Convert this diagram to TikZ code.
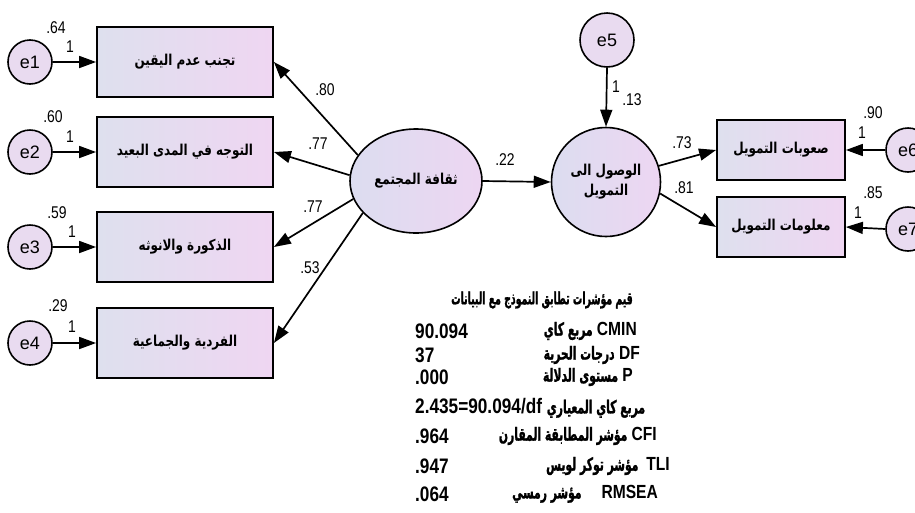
\documentclass[tikz,border=0pt]{standalone}
\usepackage{fontspec}
\setmainfont{Liberation Sans}
\newfontfamily\arfont[Script=Arabic,FakeStretch=0.8]{DejaVu Sans}
\newfontfamily\armid[Script=Arabic,FakeStretch=0.6,FakeBold=1.2]{DejaVu Sans}
\newfontfamily\arnarrow[Script=Arabic,FakeStretch=0.55,FakeBold=1.2]{DejaVu Sans}
\newfontfamily\narrowfont{Liberation Sans}[FakeStretch=0.82]
\TeXXeTstate=1
\usetikzlibrary{arrows.meta,shapes.geometric}

\newcommand{\artext}[1]{{\arfont\bfseries\beginR #1\endR}}
\newcommand{\arrow}[1]{{\armid\bfseries\fontsize{18}{18}\selectfont\beginR #1\endR}}
\newcommand{\artitle}[1]{{\arnarrow\bfseries\beginR #1\endR}}

\definecolor{boxL}{HTML}{DEE0EE}
\definecolor{boxR}{HTML}{EFD6F2}
\definecolor{errfill}{HTML}{E9DBF0}
\definecolor{latL}{HTML}{DCDDF0}
\definecolor{latR}{HTML}{EDD6F2}

\tikzset{
  obsbox/.style={draw, line width=1.8pt, rectangle, inner sep=0pt,
    left color=boxL, right color=boxR,
    font=\fontsize{15}{17}\selectfont},
  errc/.style={draw, circle, line width=1.6pt, fill=errfill, inner sep=0pt,
    minimum size=44pt, font=\fontsize{18}{18}\selectfont},
  latent/.style={draw, line width=1.6pt, inner sep=0pt,
    left color=latL, right color=latR,
    font=\fontsize{15}{20}\selectfont},
  arr/.style={-{Triangle[length=17pt,width=12pt]}, line width=1.7pt},
  coef/.style={inner sep=0pt, font=\narrowfont\fontsize{17}{17}\selectfont},
  fitnum/.style={inner sep=0pt, anchor=west, font=\narrowfont\bfseries\fontsize{21}{21}\selectfont},
  fitlab/.style={inner sep=0pt, anchor=east, font=\narrowfont\bfseries\fontsize{19}{19}\selectfont},
  fittitle/.style={inner sep=0pt, font=\fontsize{17}{17}\selectfont},
}

\begin{document}
\begin{tikzpicture}[x=1pt,y=-1pt]
\useasboundingbox (0,0) rectangle (915,512);

% error terms of the measured indicators
\node[errc] (e1) at (30,62) {e1};
\node[errc] (e2) at (30,152) {e2};
\node[errc] (e3) at (30,247) {e3};
\node[errc] (e4) at (30,343) {e4};

% indicators of the culture construct
\node[obsbox, minimum width=176pt, minimum height=70pt] (b1) at (185,62) {\artext{تجنب عدم اليقين}};
\node[obsbox, minimum width=176pt, minimum height=70pt] (b2) at (185,152) {\artext{التوجه في المدى البعيد}};
\node[obsbox, minimum width=176pt, minimum height=70pt] (b3) at (185,247) {\artext{الذكورة والانوثه}};
\node[obsbox, minimum width=176pt, minimum height=70pt] (b4) at (185,343) {\artext{الفردية والجماعية}};

% latent variables
\node[latent, ellipse, minimum width=132pt, minimum height=104pt] (F) at (416,181) {\artext{ثقافة المجتمع}};
\node[latent, circle, minimum size=109pt, align=center] (A) at (606,182) {\artext{الوصول الى}\\\artext{التمويل}};
\node[errc, minimum size=54pt] (e5) at (607,40) {e5};

% indicators of access to finance
\node[obsbox, minimum width=128pt, minimum height=60pt] (r1) at (781,150) {\artext{صعوبات التمويل}};
\node[obsbox, minimum width=128pt, minimum height=60pt] (r2) at (781,227) {\artext{معلومات التمويل}};
\node[errc] (e6) at (908,150) {e6};
\node[errc] (e7) at (908,229) {e7};

% paths
\foreach \i in {1,2,3,4} \draw[arr] (e\i.east) -- (b\i.west);
\draw[arr] (F.156) -- (b1.east);
\draw[arr] (F.175) -- (b2.east);
\draw[arr] (F.196) -- (b3.east);
\draw[arr] (F.211) -- (b4.east);
\draw[arr] (F.east) -- (A.west);
\draw[arr] (e5.south) -- (A.north);
\draw[arr] (A.17) -- (r1.west);
\draw[arr] (A.-12) -- (r2.west);
\draw[arr] (e6.west) -- (r1.east);
\draw[arr] (e7.west) -- (r2.east);

% variances and fixed loadings
\node[coef] (v1) at (56,28) {.64};  \node[coef] (f1) at (70,47) {1};
\node[coef] (v2) at (53,117) {.60}; \node[coef] (f2) at (70,137) {1};
\node[coef] (v3) at (57,213) {.59}; \node[coef] (f3) at (72,232) {1};
\node[coef] (v4) at (58,306) {.29}; \node[coef] (f4) at (72,327) {1};
\node[coef] (f5) at (616,87) {1};   \node[coef] (v5) at (632,100) {.13};
\node[coef] (v6) at (873,113) {.90}; \node[coef] (f6) at (862,133) {1};
\node[coef] (v7) at (873,193) {.85}; \node[coef] (f7) at (858,213) {1};

% standardized estimates
\node[coef] (l1) at (325,90) {.80};
\node[coef] (l2) at (318,144) {.77};
\node[coef] (l3) at (313,207) {.77};
\node[coef] (l4) at (310,268) {.53};
\node[coef] (g1) at (505,160) {.22};
\node[coef] (l5) at (682,143) {.73};
\node[coef] (l6) at (684,188) {.81};

% model fit summary
\node[fittitle] (tt) at (542,300) {\artitle{قيم مؤشرات تطابق النموذج مع البيانات}};
\node[fitnum] (n1) at (415,331) {90.094};
\node[fitlab] (t1) at (637,331) {\arrow{مربع كاي} CMIN};
\node[fitnum] (n2) at (415,355) {37};
\node[fitlab] (t2) at (640,355) {\arrow{درجات الحرية} DF};
\node[fitnum] (n3) at (415,377) {.000};
\node[fitlab] (t3) at (633,377) {\arrow{مستوى الدلالة} P};
\node[fitnum] (n4) at (415,408) {2.435=90.094/df \arrow{مربع كاي المعياري}};
\node[fitnum] (n5) at (415,436) {.964};
\node[fitlab] (t5) at (657,436) {\arrow{مؤشر المطابقة المقارن} CFI};
\node[fitnum] (n6) at (415,466) {.947};
\node[fitlab] (t6) at (670,466) {\arrow{مؤشر توكر لويس}\hspace{8pt}TLI};
\node[fitnum] (n7) at (415,494) {.064};
\node[fitlab] (t7) at (658,494) {\arrow{مؤشر رمسي}\hspace{20pt}RMSEA};
\end{tikzpicture}
\end{document}
